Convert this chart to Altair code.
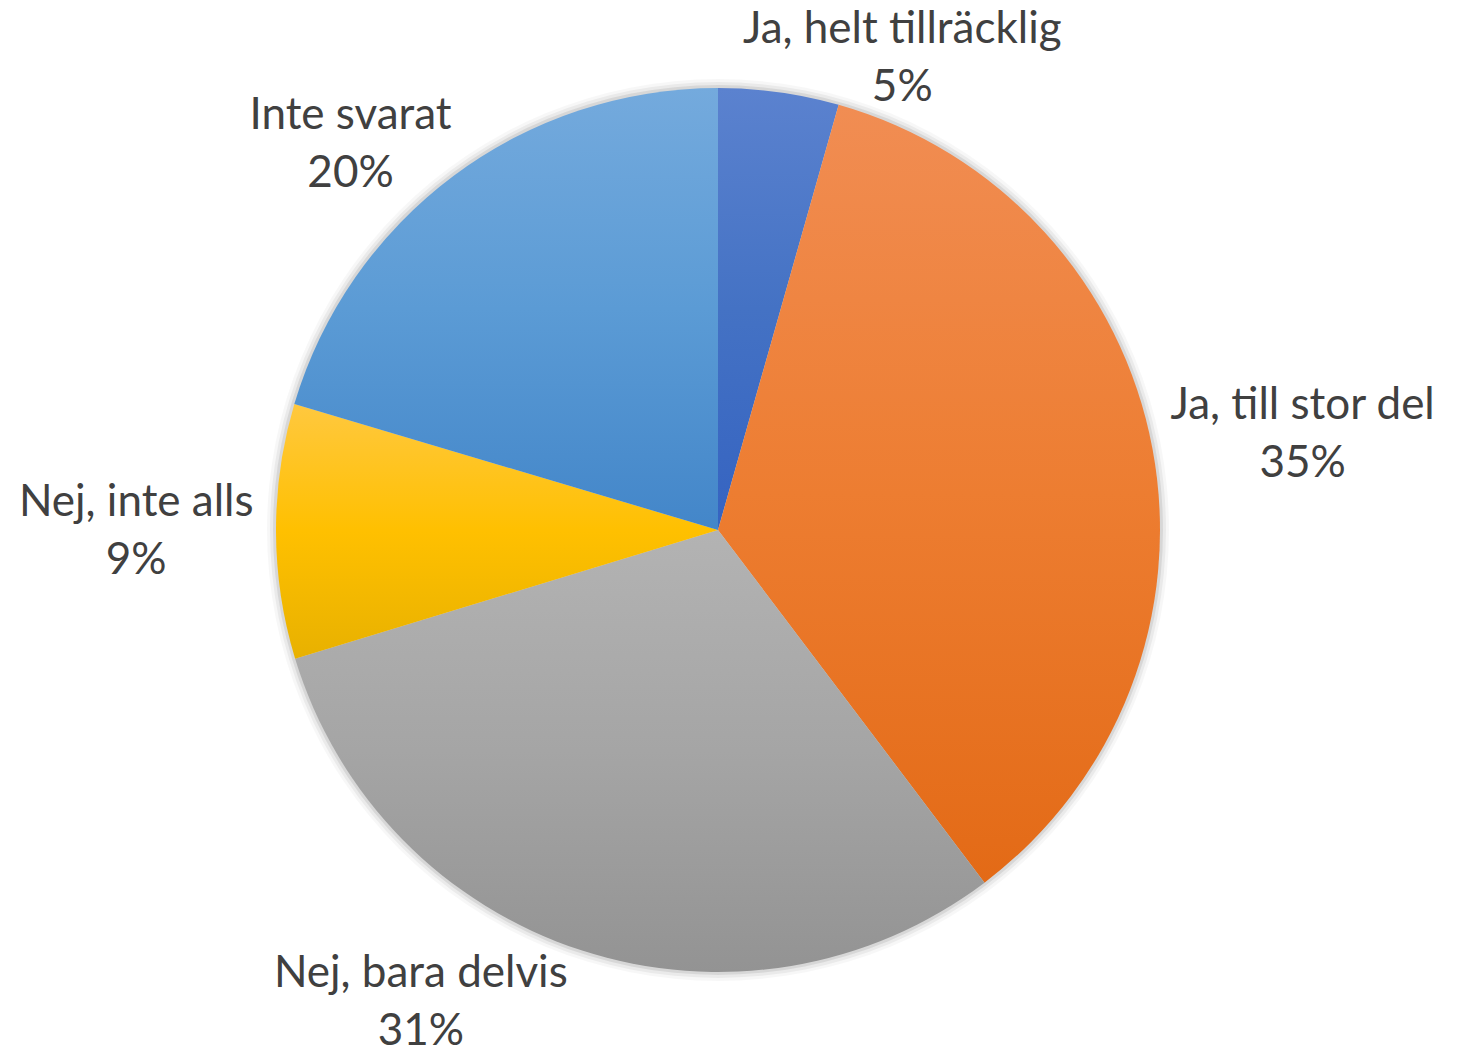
import altair as alt
import pandas as pd

# ---- data ----
categories = ["Ja, helt tillräcklig", "Ja, till stor del", "Nej, bara delvis", "Nej, inte alls", "Inte svarat"]
values = [4.4, 35.3, 30.6, 9.3, 20.4]
pct_labels = ["5%", "35%", "31%", "9%", "20%"]

# gradient colours (top, middle, bottom) per slice, Office palette
grad_top = ["#5B82CF", "#F18D53", "#B3B3B3", "#FFC83F", "#74AADD"]
grad_mid = ["#4472C4", "#ED7D31", "#A5A5A5", "#FFC000", "#5B9BD5"]
grad_bot = ["#3563C1", "#E36A16", "#939393", "#E8B100", "#4386C9"]

TOTAL = sum(values)
df = pd.DataFrame({
    "category": categories,
    "value": values,
    "pct": pct_labels,
    "order": list(range(len(categories))),
})

# layout constants (plot-area pixels)
CX, CY, R = 718, 525, 442
G = 26          # gap between pie and label text
GC = 8          # gap for labels pushed against the top/bottom edge
H, O = 20, 29   # half text height, half line spacing
PULL = 0.13     # labels drift a little toward the horizontal, as in best-fit placement
D = R + G
DC = R + GC
YMIN, YMAX = 54, 998

theta_scale = alt.Scale(domain=[0, TOTAL])

base = alt.Chart(df).transform_window(
    end="sum(value)", sort=[alt.SortField("order")], frame=[None, 0]
).transform_calculate(
    start="datum.end - datum.value"
)

# soft shadow around the pie
shadows = []
for rad, op in [(451, 0.03), (448, 0.05), (445, 0.08)]:
    shadows.append(
        alt.Chart(df).mark_arc(outerRadius=rad, color="black", opacity=op)
        .encode(theta=alt.Theta("sum(value):Q", scale=theta_scale))
    )

slices = []
for i in range(len(categories)):
    grad = alt.Gradient(
        gradient="linear",
        stops=[
            alt.GradientStop(color=grad_top[i], offset=0),
            alt.GradientStop(color=grad_mid[i], offset=0.5),
            alt.GradientStop(color=grad_bot[i], offset=1),
        ],
        x1=0, x2=0, y1=0, y2=1,
    )
    slices.append(
        base.transform_filter(alt.datum.order == i)
        .mark_arc(outerRadius=R, fill=grad, strokeWidth=0)
        .encode(
            theta=alt.Theta("start:Q", scale=theta_scale),
            theta2=alt.Theta2("end:Q"),
        )
    )


def rsolve(w, b):
    """radius at which a text-line box (half width w, inner edge offset b) clears the pie by G"""
    k = f"(datum.s*{w} + datum.c*({b}))"
    rb = f"({k} + sqrt(max(pow({k}, 2) - ({w}*{w} + ({b})*({b}) - {D * D}), 0)))"
    return (f"({rb}*datum.s < {w} ? ({D} + ({b}))/max(datum.c, 0.001) : "
            f"({rb}*datum.c < ({b}) ? ({D} + {w})/max(datum.s, 0.001) : {rb}))")


labels = base.transform_calculate(
    mid="datum.end - datum.value / 2",
    label="datum.category + '\\n' + datum.pct",
    nother="length(replace(datum.category, regexp('[ilj,. tfrI]', 'g'), ''))",
).transform_calculate(
    a0=f"datum.mid / {TOTAL} * 2 * PI",
    hw="((length(datum.category) - datum.nother) * 9.7 + datum.nother * 25) / 2",
    hp="length(datum.pct) * 14",
).transform_calculate(
    a=f"datum.a0 + {PULL} * ((datum.a0 < PI ? PI / 2 : 3 * PI / 2) - datum.a0)",
).transform_calculate(
    s="abs(sin(datum.a))",
    c="abs(cos(datum.a))",
    up="cos(datum.a) >= 0",
    sgn="sin(datum.a) >= 0 ? 1 : -1",
).transform_calculate(
    wn="datum.up ? datum.hp : datum.hw",
    wf="datum.up ? datum.hw : datum.hp",
).transform_calculate(
    r1=rsolve("datum.wn", H + O),
    r2=rsolve("datum.wf", H - O),
).transform_calculate(
    r="max(datum.r1, datum.r2)",
).transform_calculate(
    ly0=f"{CY} - datum.r * cos(datum.a)",
    lx0=f"{CX} + datum.r * sin(datum.a)",
).transform_calculate(
    ly=f"clamp(datum.ly0, {YMIN}, {YMAX})",
).transform_calculate(
    ynear=f"abs(datum.ly - {CY}) - {O} - {H}",
).transform_calculate(
    lx=(f"datum.ly == datum.ly0 ? datum.lx0 : "
        f"{CX} + datum.sgn * (sqrt(max({DC * DC} - pow(datum.ynear, 2), 0)) + datum.wn)"),
).mark_text(
    font="Lato", fontSize=44, color="#404040", lineBreak="\n", lineHeight=58,
    align="center", baseline="middle", dy=-O,
).encode(
    x=alt.X("lx:Q", scale=None),
    y=alt.Y("ly:Q", scale=None),
    text="label:N",
)

chart = alt.layer(*shadows, *slices, labels).properties(
    width=1436, height=1050, autosize="none",
    padding={"left": 0, "top": 5, "right": 22, "bottom": 0},
    background="white",
).configure_view(stroke=None)

chart.save("out.html", embed_options={"renderer": "svg", "actions": False})
